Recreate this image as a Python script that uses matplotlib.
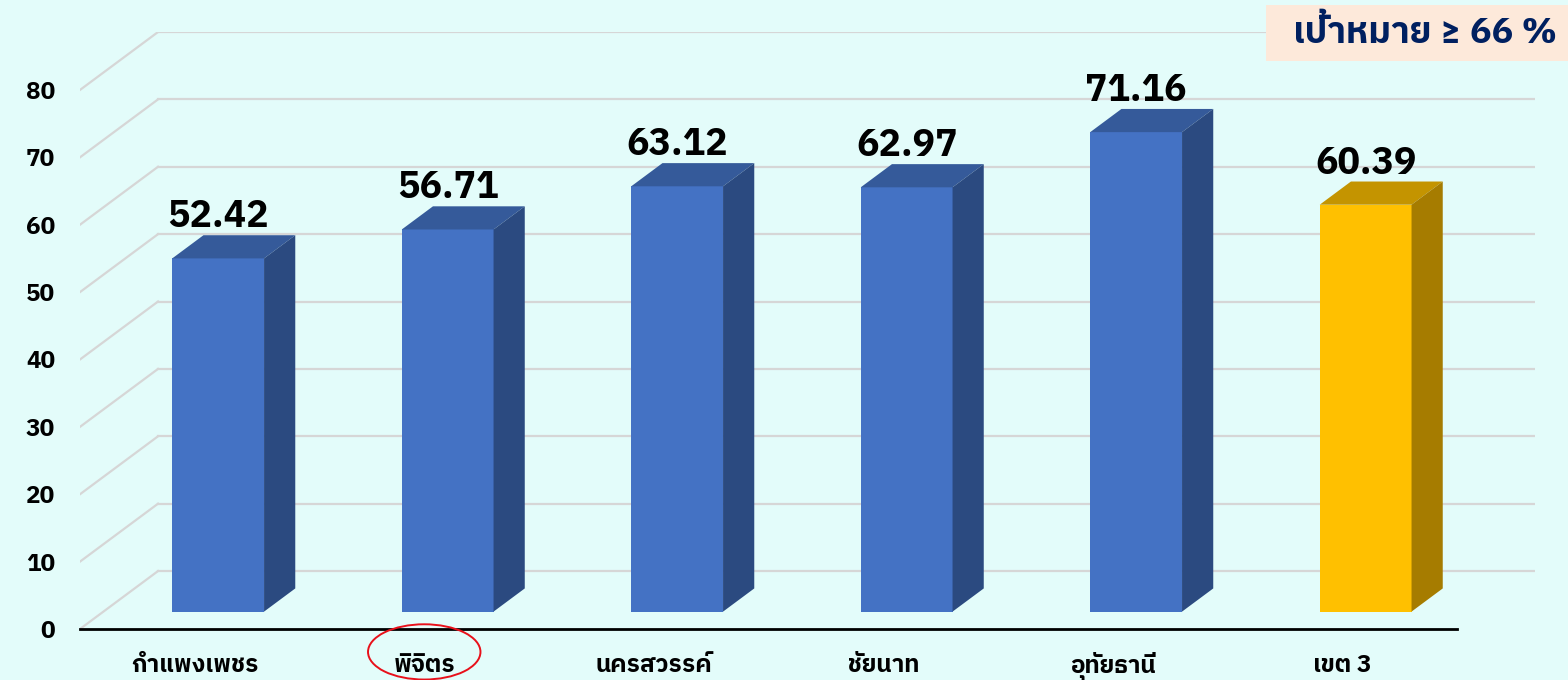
import matplotlib
matplotlib.use("Agg")
import matplotlib.pyplot as plt
from matplotlib import font_manager
from matplotlib.ft2font import FT2Font
from matplotlib.patches import Polygon, Rectangle, Ellipse

# data
categories = ["กำแพงเพชร", "พิจิตร", "นครสวรรค์", "ชัยนาท", "อุทัยธานี", "เขต 3"]
values = [52.42, 56.71, 63.12, 62.97, 71.16, 60.39]
yticks = [0, 10, 20, 30, 40, 50, 60, 70, 80]
target_text = "เป้าหมาย ≥ 66 %"
highlight = "พิจิตร"


def find_thai_family():
    """Pick an installed family that has Thai glyphs (None if there is none)."""
    found = []
    for entry in font_manager.fontManager.ttflist:
        try:
            if 0x0E01 in FT2Font(entry.fname).get_charmap():
                found.append(entry.name)
        except Exception:
            continue
    for name in found:
        if "Thai" in name and "Looped" not in name:
            return name
    return found[0] if found else None


thai = find_thai_family()
fam = [thai, "DejaVu Sans"] if thai else ["DejaVu Sans"]
plt.rcParams["font.family"] = fam

BG = "#E3FCFA"
GRID = "#D6D6D6"
FRONT = {"blue": "#4472C4", "gold": "#FFC000"}
TOP = {"blue": "#355A9A", "gold": "#C49400"}
SIDE = {"blue": "#2B4A80", "gold": "#A67C00"}

# oblique depth of the floor, in data units (x: categories, y: value)
DX = 0.34
DY = 8.6
F0, F1 = 0.30, 0.70      # bar depth range as fraction of floor depth
BW = 0.40                # bar width

fig = plt.figure(figsize=(15.68, 6.8), dpi=100, facecolor=BG)
ax = fig.add_axes([80 / 1568, 51 / 680, 1455 / 1568, 597 / 680])
ax.set_facecolor(BG)
ax.set_xlim(0, len(categories) + DX)
ax.set_ylim(0, yticks[-1] + DY)
for s in ax.spines.values():
    s.set_visible(False)

# gridlines: side wall diagonal + back wall horizontal
for v in yticks:
    ax.plot([0, DX], [v, v + DY], color=GRID, lw=1.6, zorder=1)
    ax.plot([DX, len(categories) + DX], [v + DY, v + DY], color=GRID, lw=1.6, zorder=1)

ax.plot([0, len(categories)], [0, 0], color="black", lw=2, zorder=3, clip_on=False)

for i, v in enumerate(values):
    key = "gold" if i == len(values) - 1 else "blue"
    cx = i + 0.5 + F0 * DX
    x0, x1 = cx - BW / 2, cx + BW / 2
    y0 = F0 * DY
    ddx, ddy = (F1 - F0) * DX, (F1 - F0) * DY
    ax.add_patch(Polygon([(x0, y0), (x1, y0), (x1, y0 + v), (x0, y0 + v)],
                         closed=True, fc=FRONT[key], ec="none", zorder=4))
    ax.add_patch(Polygon([(x0, y0 + v), (x1, y0 + v), (x1 + ddx, y0 + v + ddy), (x0 + ddx, y0 + v + ddy)],
                         closed=True, fc=TOP[key], ec="none", zorder=4))
    ax.add_patch(Polygon([(x1, y0), (x1 + ddx, y0 + ddy), (x1 + ddx, y0 + v + ddy), (x1, y0 + v)],
                         closed=True, fc=SIDE[key], ec="none", zorder=4))
    ax.text(cx, y0 + v + ddy, f"{v:.2f}", ha="center", va="bottom",
            fontsize=27, fontweight="bold", color="black", zorder=5)

ax.set_yticks(yticks)
ax.set_yticklabels([str(t) for t in yticks], fontsize=17.5, fontweight="bold")
ax.set_xticks([i + 0.5 for i in range(len(categories))])
ax.set_xticklabels(categories, fontsize=17.5, fontweight="bold")
# share one baseline, so the vowel marks don't push labels up or down
for lbl in ax.get_xticklabels():
    lbl.set_verticalalignment("baseline")
ax.tick_params(axis="y", length=0, pad=18)
ax.tick_params(axis="x", length=0, pad=31)

# red circle round one province
hi = categories.index(highlight) + 0.5
ax.add_patch(Ellipse((hi, -3.4), 0.49, 8.2, fill=False, ec="#E8101A", lw=1.4,
                     clip_on=False, zorder=6))

# target box top right
fig.patches.append(Rectangle((1266 / 1568, 1 - 61 / 680), 302 / 1568, 56 / 680,
                             transform=fig.transFigure, fc="#FDE9DA", ec="none"))
fig.text(1557 / 1568, 1 - 33 / 680, target_text, ha="right", va="center",
         fontsize=26, fontweight="bold", color="#002060")

fig.savefig("out.png", dpi=100, facecolor=BG)
